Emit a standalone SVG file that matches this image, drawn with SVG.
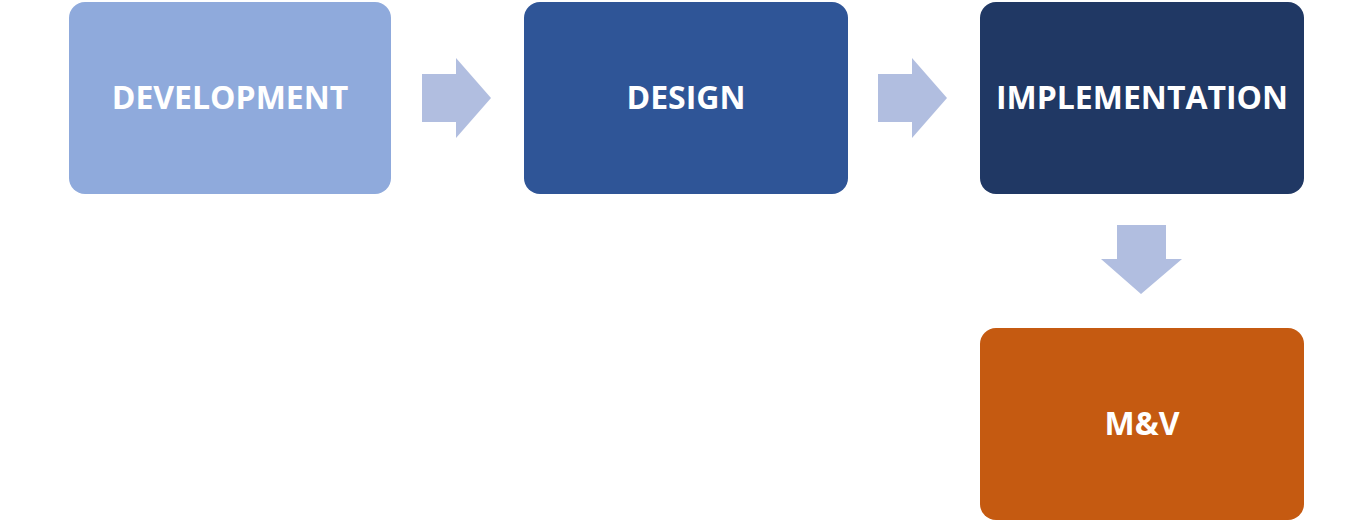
<svg xmlns="http://www.w3.org/2000/svg" width="1372" height="523" viewBox="0 0 1372 523">
<style>
.lbl{font-family:"Open Sans","Liberation Sans",sans-serif;font-weight:bold;font-size:32px;fill:#fff;text-anchor:middle;dominant-baseline:central}
.arr{fill:#B1BEE0}
</style>
<rect width="1372" height="523" fill="#fff"/>
<g id="development"><rect x="69" y="2" width="322" height="192" rx="16" fill="#8FAADC"/><text class="lbl" x="230" y="96">DEVELOPMENT</text></g>
<g id="design"><rect x="524" y="2" width="324" height="192" rx="16" fill="#2F5597"/><text class="lbl" x="686" y="96">DESIGN</text></g>
<g id="implementation"><rect x="980" y="2" width="324" height="192" rx="16" fill="#203864"/><text class="lbl" x="1142" y="96">IMPLEMENTATION</text></g>
<g id="mv"><rect x="980" y="328" width="324" height="192" rx="16" fill="#C55A11"/><text class="lbl" x="1142" y="422">M&amp;V</text></g>
<g id="connectors">
<polygon class="arr" points="422,74 456,74 456,58 491,98 456,138 456,122 422,122"/>
<polygon class="arr" points="878,74 912,74 912,58 947,98 912,138 912,122 878,122"/>
<polygon class="arr" points="1117,225 1166,225 1166,259 1182,259 1141,294 1101,259 1117,259"/>
</g>
</svg>
